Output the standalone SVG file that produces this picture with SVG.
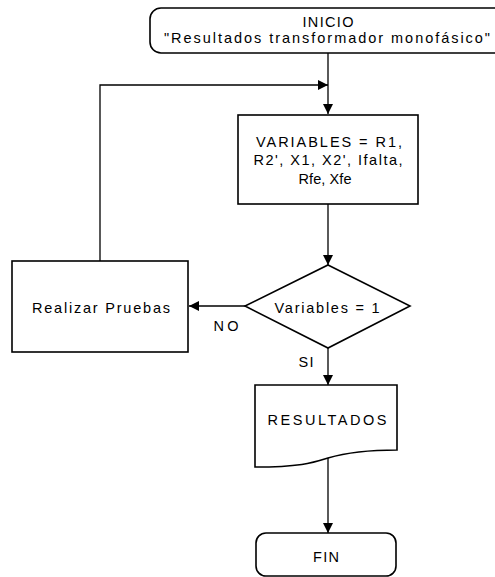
<svg xmlns="http://www.w3.org/2000/svg" width="495" height="577" viewBox="0 0 495 577">
  <defs>
    <marker id="arrow" viewBox="0 0 10 10" refX="10" refY="5" markerWidth="10" markerHeight="10" markerUnits="userSpaceOnUse" orient="auto">
      <path d="M0,0 L10,5 L0,10 Z" fill="#000"/>
    </marker>
    <style>
      .shape { fill: #fff; stroke: #000; stroke-width: 1.6; }
      .edge { fill: none; stroke: #000; stroke-width: 1.3; marker-end: url(#arrow); }
      .lbl { font-family: "Liberation Sans", Arial, sans-serif; font-size: 14.5px; fill: #000; text-anchor: middle; }
    </style>
  </defs>
  <rect width="495" height="577" fill="#fff"/>

  <g id="connectors">
    <path class="edge" d="M328,53 V114"/>
    <path class="edge" d="M100,261 V85 H328"/>
    <path class="edge" d="M328,204 V265"/>
    <path class="edge" d="M245,306 H189"/>
    <path class="edge" d="M328,348 V385"/>
    <path class="edge" d="M328,458 V533"/>
    <text class="lbl" x="226" y="331" textLength="25" lengthAdjust="spacing">NO</text>
    <text class="lbl" x="306" y="367" textLength="15" lengthAdjust="spacing">SI</text>
  </g>

  <g id="inicio">
    <rect class="shape" x="150" y="8" width="356" height="45" rx="11"/>
    <text class="lbl" x="328" y="27" textLength="51" lengthAdjust="spacing">INICIO</text>
    <text class="lbl" x="327" y="43" textLength="326" lengthAdjust="spacing">"Resultados transformador monofásico"</text>
  </g>

  <g id="variables">
    <rect class="shape" x="238" y="115" width="180" height="89"/>
    <text class="lbl" x="329" y="147" textLength="146" lengthAdjust="spacing">VARIABLES =  R1,</text>
    <text class="lbl" x="328" y="165" textLength="149" lengthAdjust="spacing">R2', X1, X2', Ifalta,</text>
    <text class="lbl" x="325" y="184" textLength="53" lengthAdjust="spacing">Rfe, Xfe</text>
  </g>

  <g id="decision">
    <polygon class="shape" points="328,265 410,306 328,348 245,306"/>
    <text class="lbl" x="327" y="313" textLength="105" lengthAdjust="spacing">Variables = 1</text>
  </g>

  <g id="pruebas">
    <rect class="shape" x="12" y="261" width="176" height="91"/>
    <text class="lbl" x="101" y="313" textLength="138" lengthAdjust="spacing">Realizar Pruebas</text>
  </g>

  <g id="resultados">
    <path class="shape" d="M255,385 H397 V450 C365,450 345,453 328,458 C312,463 300,467 255,467 Z"/>
    <text class="lbl" x="327" y="425" textLength="119" lengthAdjust="spacing">RESULTADOS</text>
  </g>

  <g id="fin">
    <rect class="shape" x="256" y="533" width="140" height="43" rx="10"/>
    <text class="lbl" x="326" y="562" textLength="26" lengthAdjust="spacing">FIN</text>
  </g>
</svg>
